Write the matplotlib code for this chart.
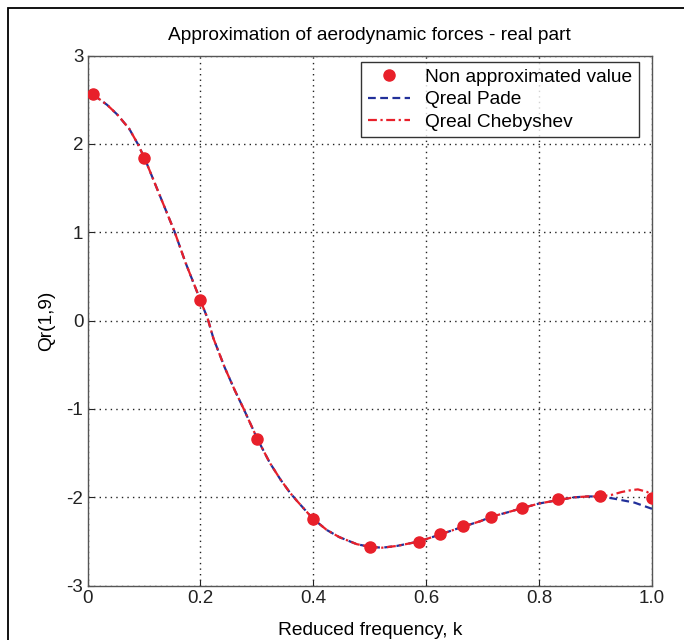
import matplotlib
matplotlib.use("Agg")
import matplotlib.pyplot as plt
from matplotlib.patches import Rectangle

plt.rcParams['font.family'] = ['Liberation Sans', 'DejaVu Sans']
plt.rcParams['axes.unicode_minus'] = False

# Non approximated values
k_pts = [0.01, 0.1, 0.2, 0.3, 0.4, 0.5, 0.587, 0.624, 0.665, 0.714, 0.770, 0.834, 0.908, 1.0]
q_pts = [2.56, 1.84, 0.23, -1.34, -2.24, -2.56, -2.50, -2.42, -2.32, -2.22, -2.12, -2.02, -1.99, -2.01]

# Pade approximation curve
k_pade = [0.01, 0.018, 0.035, 0.053, 0.074, 0.089, 0.101, 0.124, 0.154, 0.174, 0.2, 0.213, 0.223,
          0.243, 0.261, 0.276, 0.301, 0.323, 0.342, 0.359, 0.371, 0.399, 0.424, 0.446, 0.477, 0.5,
          0.522, 0.548, 0.587, 0.625, 0.666, 0.696, 0.715, 0.744, 0.771, 0.800, 0.835, 0.862,
          0.886, 0.909, 0.933, 0.969, 1.0]
q_pade = [2.55, 2.52, 2.44, 2.33, 2.17, 2.00, 1.84, 1.48, 1.01, 0.65, 0.23, 0.02, -0.20,
          -0.53, -0.79, -0.99, -1.34, -1.61, -1.80, -1.95, -2.04, -2.24, -2.37, -2.45, -2.53, -2.56,
          -2.57, -2.55, -2.50, -2.42, -2.33, -2.27, -2.22, -2.17, -2.12, -2.07, -2.03, -2.00,
          -1.99, -1.99, -2.015, -2.06, -2.13]

# Chebyshev approximation curve
k_cheb = [0.01, 0.018, 0.035, 0.053, 0.074, 0.089, 0.101, 0.124, 0.154, 0.174, 0.2, 0.213, 0.223,
          0.243, 0.261, 0.276, 0.301, 0.323, 0.342, 0.359, 0.371, 0.399, 0.424, 0.446, 0.477, 0.5,
          0.522, 0.548, 0.587, 0.625, 0.666, 0.696, 0.715, 0.744, 0.771, 0.800, 0.835, 0.862,
          0.886, 0.909, 0.93, 0.946, 0.962, 0.975, 0.992, 1.0]
q_cheb = [2.55, 2.52, 2.44, 2.33, 2.17, 2.00, 1.84, 1.48, 1.01, 0.65, 0.23, 0.02, -0.20,
          -0.53, -0.79, -0.99, -1.34, -1.61, -1.80, -1.95, -2.04, -2.24, -2.37, -2.45, -2.53, -2.56,
          -2.57, -2.55, -2.50, -2.42, -2.33, -2.27, -2.22, -2.17, -2.12, -2.07, -2.03, -2.00,
          -1.99, -1.99, -1.97, -1.94, -1.92, -1.91, -1.94, -2.01]

x_ticks = [0, 0.2, 0.4, 0.6, 0.8, 1.0]
x_ticklabels = ['0', '0.2', '0.4', '0.6', '0.8', '1.0']
y_ticks = [-3, -2, -1, 0, 1, 2, 3]

RED = '#e8202a'
BLUE = '#22309a'

fig = plt.figure(figsize=(6.84, 6.40), dpi=100)
L, R, T, B = 87.5, 652.0, 55.5, 585.7
ax = fig.add_axes([L/684, 1-B/640, (R-L)/684, (B-T)/640])

ax.plot(k_pts, q_pts, 'o', color=RED, markersize=8, label='Non approximated value', zorder=4)
ax.plot(k_pade, q_pade, '--', color=BLUE, lw=1.6, dashes=(3.5, 2), label='Qreal Pade', zorder=3)
ax.plot(k_cheb, q_cheb, '-.', color=RED, lw=1.6, dashes=(4, 1.6, 1, 1.6), label='Qreal Chebyshev', zorder=3.5)

ax.set_xlim(0, 1.0)
ax.set_ylim(-3, 3)
ax.set_xticks(x_ticks)
ax.set_xticklabels(x_ticklabels)
ax.set_yticks(y_ticks)
ax.tick_params(direction='in', length=4, labelsize=13.5, colors='#222222', top=False, right=False, pad=3)
ax.grid(True, linestyle=(0, (1, 3)), color='#222222', lw=1.0)
for s in ax.spines.values():
    s.set_color('#555555')
    s.set_linewidth(1.0)

ax.set_title('Approximation of aerodynamic forces - real part', fontsize=13.8, pad=11)
ax.set_xlabel('Reduced frequency, k', fontsize=13.8, labelpad=11)
ax.set_ylabel('Qr(1,9)', fontsize=13.8, labelpad=8)

lx = (639 - L) / (R - L)
ly = (B - 62) / (B - T)
leg = ax.legend(loc='upper right', bbox_to_anchor=(lx, ly), fontsize=13.8, frameon=True,
                fancybox=False, edgecolor='black', borderaxespad=0.0, handlelength=2.2,
                labelspacing=0.25, borderpad=0.35, handletextpad=0.8)
leg.get_frame().set_linewidth(1.0)

fig.patches.append(Rectangle((8/684, -0.1), 1.2, 1.1 - 8/640, transform=fig.transFigure,
                             fill=False, edgecolor='black', lw=1.3))

fig.savefig('out.png', dpi=100)
